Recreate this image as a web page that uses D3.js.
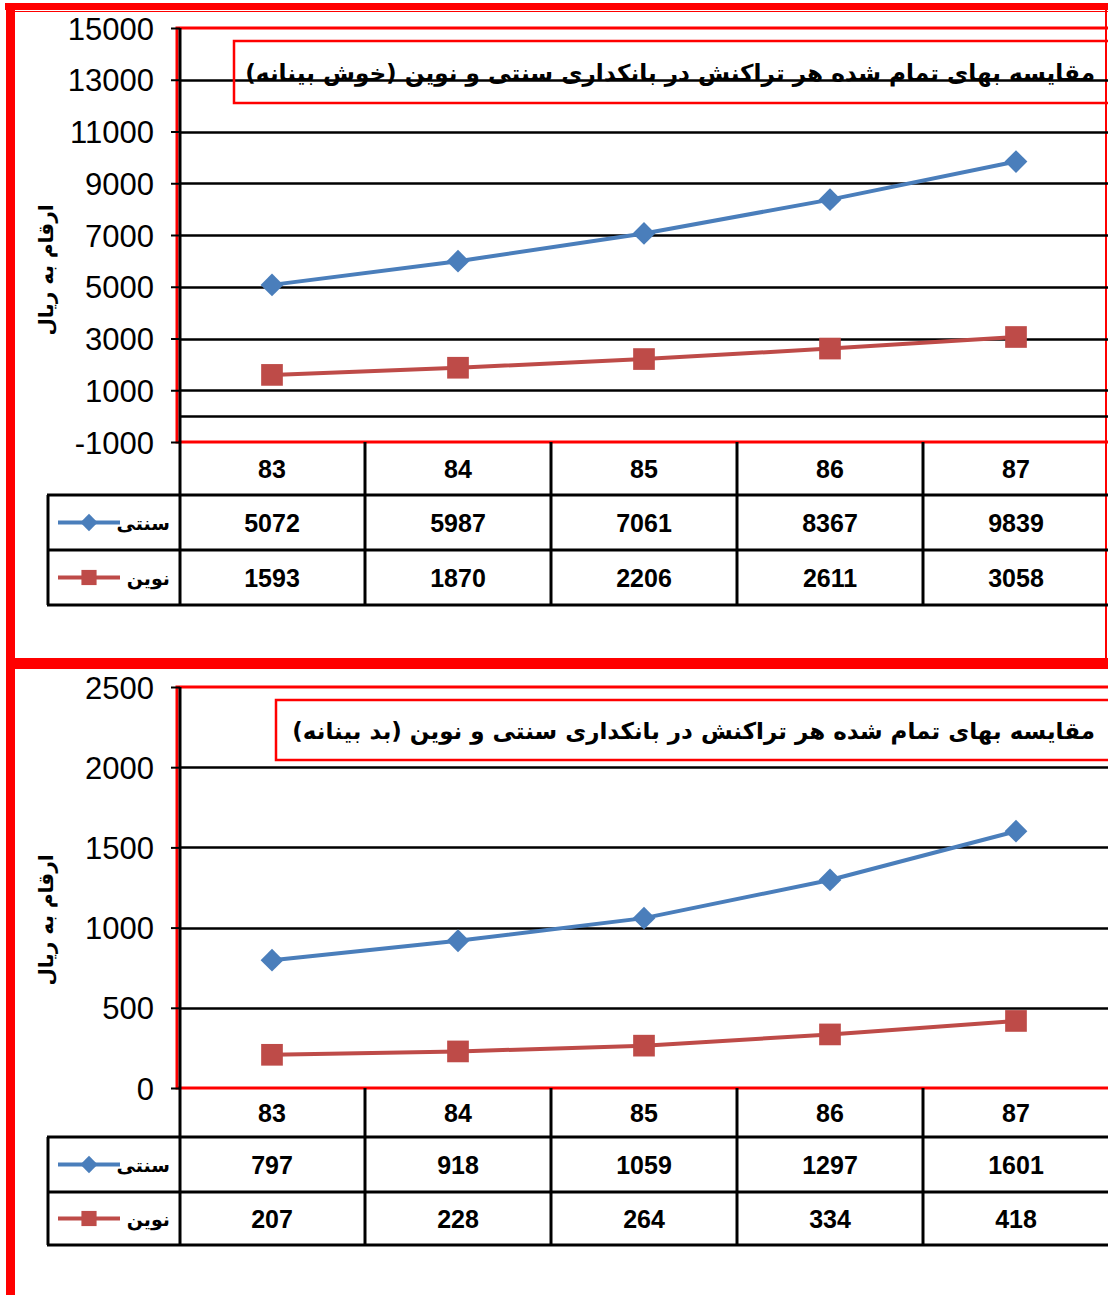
<!DOCTYPE html>
<html>
<head>
<meta charset="utf-8">
<script src="https://cdn.jsdelivr.net/npm/d3@7/dist/d3.min.js"></script>
<style>
  body { margin: 0; background: #fff; }
  svg { display: block; }
</style>
</head>
<body>
<div id="chart"></div>
<script>
// data
const years = ['83', '84', '85', '86', '87'];
const seriesNames = ['سنتی', 'نوین'];
const optimisticTraditional = [5072, 5987, 7061, 8367, 9839];
const optimisticModern = [1593, 1870, 2206, 2611, 3058];
const pessimisticTraditional = [797, 918, 1059, 1297, 1601];
const pessimisticModern = [207, 228, 264, 334, 418];
const optimisticTicks = [-1000, 1000, 3000, 5000, 7000, 9000, 11000, 13000, 15000];
const pessimisticTicks = [0, 500, 1000, 1500, 2000, 2500];
const optimisticTitle = 'مقایسه بهای تمام شده هر تراکنش در بانکداری سنتی و نوین (خوش بینانه)';
const pessimisticTitle = 'مقایسه بهای تمام شده هر تراکنش در بانکداری سنتی و نوین (بد بینانه)';
const yLabel = 'ارقام به ریال';

const W = 1108;
const H = 1295;
const blue = '#4a7ebb';
const red = '#be4b48';
const faFont = '"DejaVu Sans", sans-serif';
const numFont = '"Liberation Sans", Arial, sans-serif';

const svg = d3.select('#chart').append('svg').attr('width', W).attr('height', H);

// outer red frame
const $frame = svg.append('g').attr('fill', 'red');
$frame.append('rect').attr('x', 5).attr('y', 3).attr('width', W - 5).attr('height', 7);
$frame.append('rect').attr('x', 6).attr('y', 3).attr('width', 9).attr('height', H - 3);
$frame.append('rect').attr('x', 15).attr('y', 11).attr('width', W - 15).attr('height', 1);
$frame.append('rect').attr('x', 1105).attr('y', 10).attr('width', 2).attr('height', 648);
$frame.append('rect').attr('x', 6).attr('y', 658).attr('width', W - 6).attr('height', 11);

// wide diamond = square turned 45deg
const diamond = {
    draw(ctx, size) {
        const r = Math.sqrt(size / 2);
        ctx.moveTo(0, -r);
        ctx.lineTo(r, 0);
        ctx.lineTo(0, r);
        ctx.lineTo(-r, 0);
        ctx.closePath();
    },
};

// shrink/grow font so the text spans the target width
function fitText(sel, target) {
    const len = sel.node().getComputedTextLength();
    const fs = parseFloat(sel.attr('font-size'));
    sel.attr('font-size', fs * target / len);
}

function drawPanel(opt) {
    const g = svg.append('g');
    const left = 179;
    const right = 1109;
    const x = d3.scaleBand().domain(years).range([left, right]);
    const y = d3.scaleLinear().domain(opt.domain).range([opt.bottom, opt.top]);

    // gridlines
    const grid = opt.ticks.slice(1, -1);
    if (opt.domain[0] < 0) grid.push(0);
    g.append('g').selectAll('line').data(grid).join('line')
        .attr('x1', left).attr('x2', W)
        .attr('y1', d => Math.round(y(d)) + 0.5).attr('y2', d => Math.round(y(d)) + 0.5)
        .attr('stroke', '#000').attr('stroke-width', 2.5);

    // plot area border
    g.append('rect')
        .attr('x', left - 2).attr('y', opt.top)
        .attr('width', W - left + 10).attr('height', opt.bottom - opt.top)
        .attr('fill', 'none').attr('stroke', 'red').attr('stroke-width', 3);

    // title box
    g.append('rect')
        .attr('x', opt.titleBox[0]).attr('y', opt.titleBox[1])
        .attr('width', W - opt.titleBox[0] + 10).attr('height', opt.titleBox[2])
        .attr('fill', opt.titleFill).attr('stroke', 'red').attr('stroke-width', 2.5);
    const $title = g.append('text')
        .attr('x', 1095).attr('y', opt.titleBox[1] + opt.titleBox[2] / 2 + 9)
        .attr('direction', 'rtl').attr('text-anchor', 'start')
        .attr('font-family', faFont).attr('font-weight', 'bold').attr('font-size', 24)
        .text(opt.title);
    fitText($title, opt.titleWidth);

    // y axis
    const $yAxis = g.append('g')
        .attr('transform', `translate(${left + 1},0)`)
        .call(d3.axisLeft(y).tickValues(opt.ticks).tickSize(9).tickPadding(17).tickFormat(d => String(d)));
    $yAxis.select('.domain').attr('stroke', '#000').attr('stroke-width', 3)
        .attr('d', `M0,${opt.top}V${opt.tableBottom}`);
    $yAxis.selectAll('.tick line').attr('stroke', '#000').attr('stroke-width', 2);
    $yAxis.selectAll('.tick text')
        .attr('font-family', numFont).attr('font-size', 31).attr('fill', '#000')
        .attr('dy', '0.36em');

    // y label
    g.append('text')
        .attr('transform', `translate(53,${opt.labelY}) rotate(-90)`)
        .attr('direction', 'rtl').attr('text-anchor', 'middle')
        .attr('font-family', faFont).attr('font-weight', 'bold').attr('font-size', 20)
        .text(yLabel);

    // lines + markers
    const series = [
        { name: seriesNames[0], values: opt.traditional, color: blue, shape: diamond, size: 260 },
        { name: seriesNames[1], values: opt.modern, color: red, shape: d3.symbolSquare, size: 470 },
    ];
    const line = d3.line()
        .x((d, i) => x(years[i]) + x.bandwidth() / 2)
        .y(d => y(d));
    series.forEach(s => {
        g.append('path').datum(s.values)
            .attr('d', line).attr('fill', 'none')
            .attr('stroke', s.color).attr('stroke-width', 4);
        g.append('g').selectAll('path').data(s.values).join('path')
            .attr('transform', (d, i) => `translate(${x(years[i]) + x.bandwidth() / 2},${y(d)})`)
            .attr('d', d3.symbol(s.shape, s.size))
            .attr('fill', s.color);
    });

    // data table
    const rows = [opt.bottom, opt.rowY[0], opt.rowY[1], opt.tableBottom];
    const $t = g.append('g').attr('stroke', '#000').attr('stroke-width', 3);
    [rows[1], rows[2], rows[3]].forEach(r => {
        $t.append('line').attr('x1', 47).attr('x2', W).attr('y1', r).attr('y2', r);
    });
    $t.append('line').attr('x1', 48).attr('x2', 48).attr('y1', rows[1]).attr('y2', rows[3]);
    years.slice(1).forEach(c => {
        $t.append('line').attr('x1', x(c)).attr('x2', x(c)).attr('y1', rows[0]).attr('y2', rows[3]);
    });

    const $cells = g.append('g')
        .attr('font-family', numFont).attr('font-weight', 'bold').attr('font-size', 25)
        .attr('text-anchor', 'middle');
    years.forEach((c, i) => {
        const cx = x(c) + x.bandwidth() / 2;
        $cells.append('text').attr('x', cx).attr('y', (rows[0] + rows[1]) / 2 + 9).text(c);
        $cells.append('text').attr('x', cx).attr('y', (rows[1] + rows[2]) / 2 + 9).text(opt.traditional[i]);
        $cells.append('text').attr('x', cx).attr('y', (rows[2] + rows[3]) / 2 + 9).text(opt.modern[i]);
    });

    // legend keys in the table
    series.forEach((s, k) => {
        const cy = (rows[k + 1] + rows[k + 2]) / 2;
        g.append('line').attr('x1', 58).attr('x2', 120).attr('y1', cy).attr('y2', cy)
            .attr('stroke', s.color).attr('stroke-width', 4);
        g.append('path').attr('transform', `translate(89,${cy})`)
            .attr('d', d3.symbol(s.shape, k === 0 ? 150 : 230))
            .attr('fill', s.color);
        g.append('text').attr('x', 170).attr('y', cy + 7)
            .attr('direction', 'rtl').attr('text-anchor', 'start')
            .attr('font-family', faFont).attr('font-weight', 'bold').attr('font-size', 19)
            .text(s.name);
    });
}

drawPanel({
    domain: [-1000, 15000], ticks: optimisticTicks, top: 28, bottom: 442,
    traditional: optimisticTraditional, modern: optimisticModern,
    title: optimisticTitle, titleBox: [234, 41, 62], titleWidth: 850, titleFill: 'none',
    rowY: [495, 550], tableBottom: 605, labelY: 270,
});

drawPanel({
    domain: [0, 2500], ticks: pessimisticTicks, top: 687, bottom: 1088,
    traditional: pessimisticTraditional, modern: pessimisticModern,
    title: pessimisticTitle, titleBox: [276, 700, 60], titleWidth: 803, titleFill: '#fff',
    rowY: [1137, 1192], tableBottom: 1245, labelY: 920,
});
</script>
</body>
</html>
